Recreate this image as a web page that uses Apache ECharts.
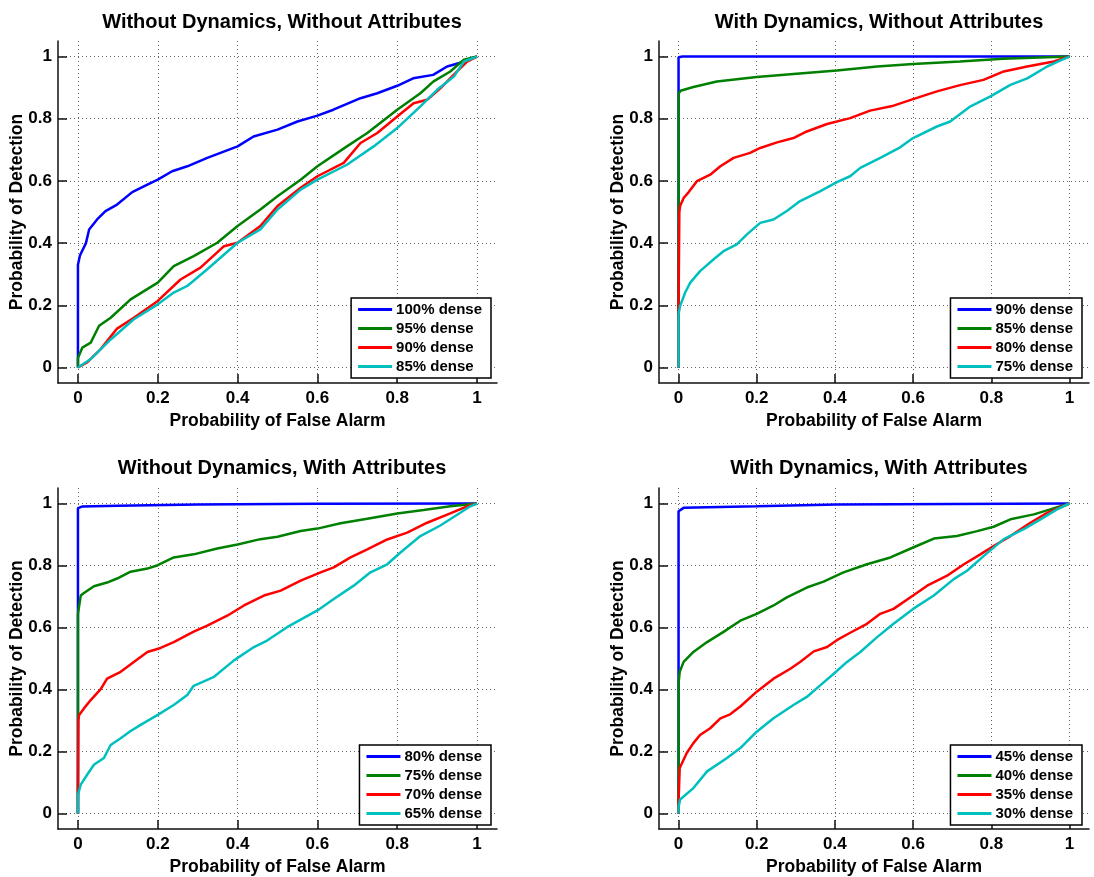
<!DOCTYPE html>
<html>
<head>
<meta charset="utf-8">
<script src="https://cdn.jsdelivr.net/npm/echarts@6/dist/echarts.min.js"></script>
<style>
html, body { margin: 0; padding: 0; background: #fff; }
#main { width: 1094px; height: 877px; }
</style>
</head>
<body>
<div id="main"></div>
<script>
// tick positions shared by every axis
const tickValues = [0, 0.2, 0.4, 0.6, 0.8, 1];
const axisRange = [-0.05, 1.05];

const titles = [
  'Without Dynamics, Without Attributes',
  'With Dynamics, Without Attributes',
  'Without Dynamics, With Attributes',
  'With Dynamics, With Attributes'
];

const legendNames = [
  ['100% dense', '95% dense', '90% dense', '85% dense'],
  ['90% dense', '85% dense', '80% dense', '75% dense'],
  ['80% dense', '75% dense', '70% dense', '65% dense'],
  ['45% dense', '40% dense', '35% dense', '30% dense']
];

// top left : without dynamics, without attributes  [Pfa, Pd]
const tlA = [[0,0],[0,0.33],[0.005,0.36],[0.02,0.40],[0.028,0.444],[0.048,0.476],[0.069,0.503],[0.098,0.524],[0.136,0.564],[0.174,0.588],[0.2,0.604],[0.236,0.631],[0.274,0.647],[0.324,0.674],[0.4,0.711],[0.44,0.743],[0.5,0.765],[0.55,0.791],[0.6,0.81],[0.64,0.829],[0.708,0.866],[0.75,0.882],[0.8,0.906],[0.84,0.93],[0.89,0.941],[0.925,0.968],[0.958,0.98],[0.975,0.99],[1,1]];
const tlB = [[0,0],[0,0.03],[0.011,0.064],[0.032,0.08],[0.053,0.134],[0.082,0.16],[0.132,0.219],[0.2,0.273],[0.24,0.326],[0.29,0.358],[0.349,0.401],[0.4,0.455],[0.457,0.508],[0.5,0.551],[0.558,0.604],[0.6,0.647],[0.674,0.711],[0.725,0.754],[0.8,0.829],[0.858,0.882],[0.891,0.92],[0.933,0.952],[0.967,0.99],[1,1]];
const tlC = [[0,0],[0.023,0.016],[0.057,0.059],[0.098,0.125],[0.14,0.16],[0.2,0.214],[0.257,0.283],[0.307,0.321],[0.366,0.39],[0.4,0.401],[0.457,0.455],[0.5,0.519],[0.558,0.578],[0.6,0.615],[0.666,0.658],[0.708,0.722],[0.75,0.754],[0.8,0.807],[0.841,0.85],[0.875,0.861],[0.908,0.898],[0.95,0.952],[0.975,0.984],[1,1]];
const tlD = [[0,0],[0.032,0.027],[0.082,0.09],[0.14,0.155],[0.2,0.203],[0.24,0.241],[0.274,0.262],[0.324,0.316],[0.4,0.401],[0.457,0.444],[0.5,0.508],[0.558,0.572],[0.6,0.604],[0.674,0.652],[0.741,0.711],[0.8,0.77],[0.858,0.84],[0.9,0.893],[0.942,0.936],[0.967,0.984],[1,1]];

// top right : with dynamics, without attributes
const trA = [[0,0],[0,0.998],[0.01,1],[1,1]];
const trB = [[0,0],[0,0.88],[0.005,0.89],[0.038,0.902],[0.098,0.92],[0.2,0.934],[0.294,0.944],[0.405,0.955],[0.508,0.968],[0.6,0.976],[0.72,0.984],[0.83,0.993],[1,1]];
const trC = [[0,0],[0,0.19],[0.002,0.5],[0.004,0.519],[0.013,0.545],[0.026,0.564],[0.047,0.599],[0.081,0.62],[0.107,0.647],[0.141,0.674],[0.183,0.69],[0.209,0.706],[0.252,0.724],[0.294,0.738],[0.328,0.759],[0.38,0.783],[0.439,0.802],[0.49,0.826],[0.55,0.842],[0.6,0.863],[0.661,0.888],[0.72,0.908],[0.78,0.925],[0.832,0.952],[0.892,0.968],[0.96,0.984],[1,1]];
const trD = [[0,0],[0,0.17],[0.004,0.198],[0.017,0.241],[0.03,0.273],[0.055,0.31],[0.09,0.348],[0.115,0.374],[0.149,0.396],[0.175,0.428],[0.209,0.465],[0.243,0.476],[0.277,0.503],[0.311,0.535],[0.363,0.567],[0.405,0.596],[0.439,0.615],[0.465,0.642],[0.516,0.674],[0.567,0.708],[0.6,0.738],[0.661,0.775],[0.695,0.791],[0.747,0.84],[0.798,0.872],[0.849,0.909],[0.892,0.93],[0.943,0.968],[0.98,0.989],[1,1]];

// bottom left : without dynamics, with attributes
const blA = [[0,0],[0,0.985],[0.01,0.99],[0.1,0.993],[0.3,0.997],[0.6,0.999],[1,1]];
const blB = [[0,0],[0,0.644],[0.007,0.703],[0.015,0.711],[0.04,0.733],[0.073,0.745],[0.098,0.758],[0.132,0.78],[0.174,0.79],[0.2,0.801],[0.24,0.826],[0.29,0.836],[0.349,0.855],[0.4,0.868],[0.457,0.885],[0.5,0.893],[0.558,0.911],[0.6,0.919],[0.658,0.936],[0.725,0.951],[0.8,0.968],[0.866,0.979],[0.933,0.991],[1,1]];
const blC = [[0,0],[0,0.08],[0.001,0.3],[0.003,0.318],[0.015,0.339],[0.032,0.366],[0.057,0.401],[0.073,0.435],[0.107,0.457],[0.14,0.489],[0.174,0.521],[0.207,0.534],[0.24,0.553],[0.29,0.587],[0.324,0.606],[0.374,0.638],[0.416,0.671],[0.466,0.703],[0.508,0.719],[0.558,0.751],[0.608,0.778],[0.641,0.794],[0.683,0.826],[0.725,0.852],[0.775,0.884],[0.825,0.906],[0.875,0.938],[0.933,0.968],[0.975,0.991],[1,1]];
const blD = [[0,0],[0,0.06],[0.007,0.093],[0.023,0.125],[0.04,0.157],[0.065,0.179],[0.082,0.221],[0.107,0.243],[0.132,0.266],[0.157,0.286],[0.2,0.318],[0.24,0.35],[0.274,0.382],[0.29,0.412],[0.341,0.441],[0.391,0.494],[0.441,0.537],[0.474,0.558],[0.524,0.601],[0.6,0.655],[0.641,0.692],[0.691,0.735],[0.733,0.778],[0.775,0.804],[0.808,0.842],[0.858,0.895],[0.908,0.929],[0.958,0.97],[0.983,0.991],[1,1]];

// bottom right : with dynamics, with attributes
const brA = [[0,0],[0,0.975],[0.013,0.986],[0.2,0.991],[0.405,0.997],[1,1]];
const brB = [[0,0],[0,0.42],[0.003,0.457],[0.013,0.489],[0.038,0.521],[0.073,0.553],[0.115,0.586],[0.158,0.622],[0.2,0.644],[0.243,0.671],[0.277,0.697],[0.328,0.729],[0.371,0.748],[0.422,0.778],[0.482,0.804],[0.542,0.826],[0.6,0.858],[0.653,0.887],[0.712,0.895],[0.764,0.911],[0.806,0.925],[0.849,0.949],[0.909,0.965],[0.951,0.981],[1,1]];
const brC = [[0,0],[0,0.04],[0.003,0.147],[0.021,0.195],[0.038,0.227],[0.055,0.253],[0.081,0.275],[0.107,0.307],[0.132,0.32],[0.158,0.345],[0.2,0.393],[0.243,0.435],[0.286,0.467],[0.311,0.489],[0.346,0.523],[0.38,0.537],[0.405,0.559],[0.439,0.583],[0.482,0.612],[0.516,0.644],[0.55,0.66],[0.6,0.703],[0.636,0.735],[0.687,0.767],[0.73,0.804],[0.772,0.836],[0.806,0.863],[0.849,0.895],[0.9,0.938],[0.943,0.97],[1,1]];
const brD = [[0,0],[0,0.02],[0.004,0.045],[0.038,0.082],[0.073,0.136],[0.124,0.179],[0.158,0.211],[0.2,0.264],[0.243,0.307],[0.294,0.35],[0.328,0.376],[0.363,0.414],[0.397,0.451],[0.431,0.489],[0.465,0.521],[0.508,0.569],[0.55,0.612],[0.6,0.66],[0.653,0.703],[0.704,0.756],[0.738,0.783],[0.781,0.831],[0.832,0.885],[0.883,0.917],[0.926,0.949],[0.968,0.981],[1,1]];

const panelData = [
  [tlA, tlB, tlC, tlD],
  [trA, trB, trC, trD],
  [blA, blB, blC, blD],
  [brA, brB, brC, brD]
];

const lineColors = ['#0000ff', '#008000', '#ff0000', '#00bfbf'];
const font = "'Liberation Sans', Arial, Helvetica, sans-serif";

// pixel layout of the four panels
const panels = [
  { left: 58,  top: 41,  width: 439, height: 342, titleX: 277, titleY: 7,   legendRight: 603, legendTop: 298 },
  { left: 659, top: 41,  width: 430, height: 342, titleX: 874, titleY: 7,   legendRight: 12,  legendTop: 298 },
  { left: 58,  top: 488, width: 439, height: 343, titleX: 277, titleY: 453, legendRight: 603, legendTop: 745 },
  { left: 659, top: 488, width: 430, height: 343, titleX: 874, titleY: 453, legendRight: 12,  legendTop: 745 }
];

function makeAxis(i, isX) {
  return {
    type: 'value',
    gridIndex: i,
    min: axisRange[0],
    max: axisRange[1],
    name: isX ? 'Probability of False Alarm' : 'Probability of Detection',
    nameLocation: 'middle',
    nameGap: isX ? 29 : 32,
    nameMoveOverlap: false,
    nameTextStyle: { fontFamily: font, fontWeight: 'bold', fontSize: 17.5, color: '#000' },
    axisLine: { show: true, onZero: false, lineStyle: { color: '#111', width: 1.5 } },
    axisTick: { show: true, inside: true, length: 9, customValues: tickValues, lineStyle: { color: '#111', width: 1.5 } },
    axisLabel: {
      customValues: tickValues,
      margin: isX ? 7 : 6,
      fontFamily: font, fontWeight: 'bold', fontSize: 17, color: '#000',
      formatter: v => String(v)
    },
    splitLine: { show: true, lineStyle: { color: '#666', width: 1, type: [1, 3] } }
  };
}

const option = {
  animation: false,
  backgroundColor: '#fff',
  title: [],
  legend: [],
  grid: [],
  xAxis: [],
  yAxis: [],
  series: []
};

panels.forEach((p, i) => {
  option.grid.push({ left: p.left, top: p.top, width: p.width, height: p.height, containLabel: false });
  option.title.push({
    text: titles[i], left: p.titleX, top: p.titleY, textAlign: 'center',
    textStyle: { fontFamily: font, fontWeight: 'bold', fontSize: 20, color: '#000' }
  });
  option.xAxis.push(makeAxis(i, true));
  option.yAxis.push(makeAxis(i, false));

  const ids = legendNames[i].map((n, k) => 'p' + i + '_' + k);
  option.legend.push({
    data: ids,
    orient: 'vertical',
    right: p.legendRight,
    top: p.legendTop,
    icon: 'rect',
    itemWidth: 34,
    itemHeight: 3,
    itemGap: 4,
    itemStyle: { borderWidth: 0 },
    padding: [4, 9, 4, 7],
    backgroundColor: '#fff',
    borderColor: '#000',
    borderWidth: 1.5,
    borderRadius: 0,
    selectedMode: false,
    formatter: name => legendNames[i][+name.split('_')[1]],
    textStyle: { fontFamily: font, fontWeight: 'bold', fontSize: 15, color: '#000', padding: [0, 0, 0, -1] }
  });

  panelData[i].forEach((d, k) => {
    option.series.push({
      name: ids[k],
      type: 'line',
      xAxisIndex: i,
      yAxisIndex: i,
      data: d,
      showSymbol: false,
      symbol: 'none',
      color: lineColors[k],
      lineStyle: { color: lineColors[k], width: 2.5 },
      z: 3 + k
    });
  });
});

const myChart = echarts.init(document.getElementById('main'));
myChart.setOption(option);
</script>
</body>
</html>
